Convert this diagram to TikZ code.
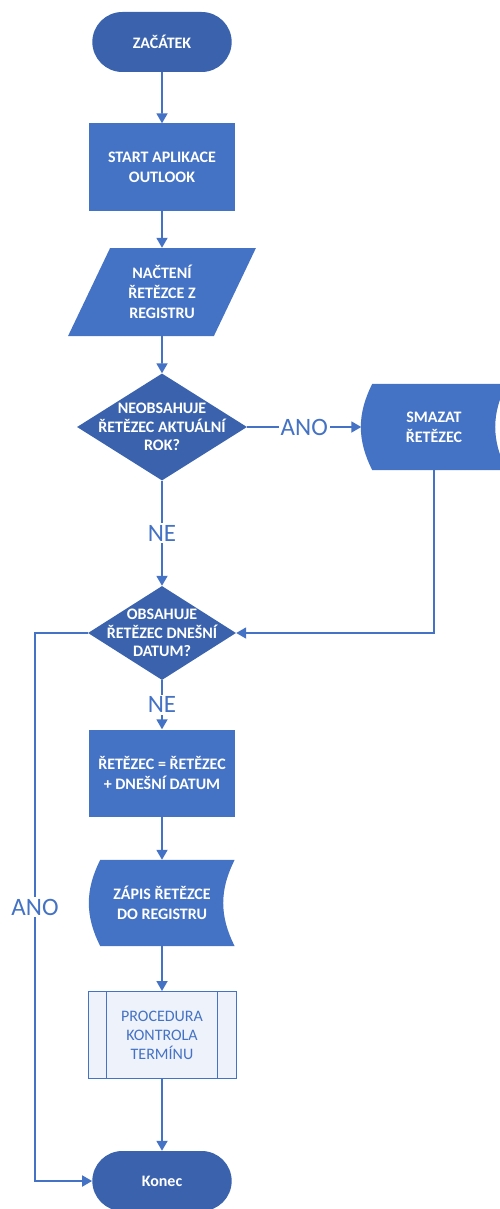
\documentclass[tikz,border=0pt]{standalone}
\usepackage{fontspec}
\setmainfont{Carlito}
\usetikzlibrary{shapes.geometric,shapes.misc,arrows.meta,calc}
\pgfdeclarelayer{bg}
\pgfsetlayers{bg,main}
\definecolor{boxblue}{HTML}{4472C4}
\definecolor{darkblue}{HTML}{3B63AD}
\definecolor{procfill}{HTML}{EEF2FA}
\tikzset{
  every node/.style={font=\fontsize{16}{20}\selectfont\bfseries, text=white, align=center},
  terminal/.style={rounded rectangle, fill=darkblue, minimum width=146pt, minimum height=60pt},
  process/.style={rectangle, fill=boxblue, minimum width=146pt, minimum height=87pt},
  io/.style={trapezium, trapezium left angle=63, trapezium right angle=117, trapezium stretches=true,
    fill=boxblue, minimum width=188pt, minimum height=88pt, inner sep=0pt},
  decision/.style={diamond, fill=darkblue, minimum width=170pt, minimum height=107pt, inner sep=0pt},
  dtext/.style={font=\fontsize{16}{18.5}\selectfont\bfseries, text=white},
  stored/.style={rectangle, minimum width=145pt, minimum height=86pt},
  predef/.style={rectangle, draw=boxblue, line width=1pt, fill=procfill, minimum width=148pt,
    minimum height=87pt, text=boxblue, font=\fontsize{16}{19}\selectfont},
  predefline/.style={draw=boxblue, line width=1pt},
  flow/.style={draw=boxblue, line width=1.8pt, -{Triangle[width=11pt,length=10pt]}},
  answer/.style={fill=white, text=boxblue, font=\fontsize{25}{25}\selectfont, inner sep=2pt}
}
\newcommand\storedfill[1]{%
  \begin{pgfonlayer}{bg}
    \fill[boxblue] ($(#1.north west)+(11,0)$) -- (#1.north east) to[bend right=27] (#1.south east)
      -- ($(#1.south west)+(11,0)$) to[bend left=27] ($(#1.north west)+(11,0)$) -- cycle;
  \end{pgfonlayer}}
\begin{document}
\begin{tikzpicture}[x=1pt,y=-1pt]
  \useasboundingbox (0,0) rectangle (499,1209);
  \node[terminal] (zacatek) at (162,42) {ZAČÁTEK};
  \node[process] (start) at (162,167) {START APLIKACE\\OUTLOOK};
  \node[io] (nacteni) at (162,292) {NAČTENÍ\\ŘETĚZCE Z\\REGISTRU};
  \node[decision, label={[dtext]center:NEOBSAHUJE\\ŘETĚZEC AKTUÁLNÍ\\ROK?}] (rok) at (162,427) {};
  \node[stored] (smazat) at (434,427) {SMAZAT\\ŘETĚZEC};
  \node[decision, minimum width=148pt, minimum height=94pt,
    label={[dtext]center:OBSAHUJE\\ŘETĚZEC DNEŠNÍ\\DATUM?}] (datum) at (162,633) {};
  \node[process] (pridat) at (162,773) {ŘETĚZEC = ŘETĚZEC\\+ DNEŠNÍ DATUM};
  \node[stored] (zapis) at (162,903) {ZÁPIS ŘETĚZCE\\DO REGISTRU};
  \node[predef] (kontrola) at (162,1035) {PROCEDURA\\KONTROLA\\TERMÍNU};
  \node[terminal] (konec) at (162,1181) {Konec};
  \coordinate (ohyb) at (35,633);
  \storedfill{smazat}
  \storedfill{zapis}
  \draw[predefline] ([xshift=19pt]kontrola.north west) -- ([xshift=19pt]kontrola.south west);
  \draw[predefline] ([xshift=-19pt]kontrola.north east) -- ([xshift=-19pt]kontrola.south east);
  \begin{scope}[flow]
    \draw (zacatek) to (start);
    \draw (start) to (nacteni);
    \draw (nacteni) to (rok);
    \draw (rok) to node[answer]{ANO} (smazat);
    \draw (rok) to node[answer]{NE} (datum);
    \draw (smazat) |- (datum);
    \draw (datum) to node[answer]{NE} (pridat);
    \draw (pridat) to (zapis);
    \draw (zapis) to (kontrola);
    \draw (kontrola) to (konec);
    \draw (datum) -- (ohyb) |- node[answer, pos=0.25]{ANO} (konec);
  \end{scope}
\end{tikzpicture}
\end{document}
